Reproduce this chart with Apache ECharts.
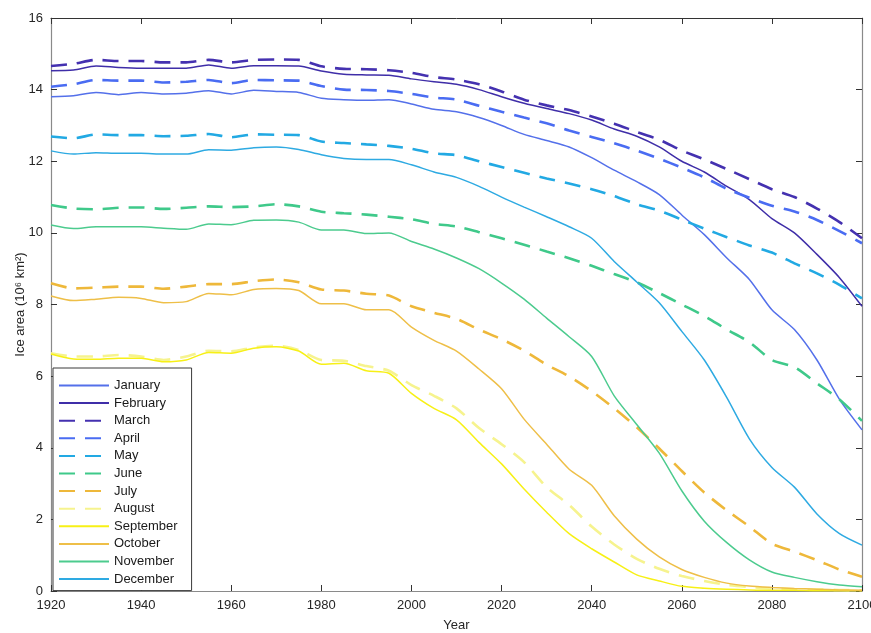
<!DOCTYPE html>
<html>
<head>
<meta charset="utf-8">
<script src="https://cdn.jsdelivr.net/npm/echarts@6/dist/echarts.min.js"></script>
<style>
html,body{margin:0;padding:0;background:#fff;}
#c{width:871px;height:633px;}
</style>
</head>
<body>
<div id="c"></div>
<script>
var years = [1920,1925,1930,1935,1940,1945,1950,1955,1960,1965,1970,1975,1980,1985,1990,1995,2000,2005,2010,2015,2020,2025,2030,2035,2040,2045,2050,2055,2060,2065,2070,2075,2080,2085,2090,2095,2100];

var january   = [13.80,13.83,13.92,13.86,13.92,13.88,13.90,13.97,13.88,13.98,13.95,13.92,13.76,13.72,13.70,13.72,13.60,13.45,13.38,13.22,13.00,12.75,12.58,12.40,12.10,11.75,11.43,11.07,10.50,9.95,9.30,8.70,7.85,7.30,6.45,5.35,4.50];
var february  = [14.53,14.55,14.66,14.62,14.60,14.60,14.60,14.69,14.60,14.67,14.67,14.66,14.52,14.43,14.41,14.40,14.30,14.22,14.15,14.00,13.80,13.62,13.47,13.33,13.15,12.90,12.70,12.40,12.00,11.70,11.30,10.93,10.40,10.00,9.40,8.75,7.95];
var march     = [14.66,14.72,14.83,14.80,14.80,14.76,14.76,14.83,14.76,14.83,14.84,14.83,14.65,14.58,14.57,14.54,14.47,14.35,14.28,14.15,13.95,13.72,13.56,13.43,13.25,13.05,12.82,12.60,12.30,12.05,11.78,11.50,11.22,11.00,10.68,10.30,9.85];
var april     = [14.08,14.15,14.27,14.25,14.25,14.20,14.22,14.27,14.18,14.27,14.26,14.25,14.10,14.00,13.99,13.96,13.88,13.78,13.72,13.55,13.38,13.22,13.06,12.86,12.68,12.50,12.30,12.07,11.82,11.55,11.23,10.98,10.76,10.60,10.36,10.05,9.71];
var may       = [12.69,12.64,12.75,12.73,12.73,12.70,12.71,12.76,12.67,12.75,12.74,12.73,12.55,12.51,12.47,12.43,12.35,12.22,12.17,12.00,11.84,11.68,11.52,11.38,11.22,11.03,10.80,10.62,10.37,10.12,9.88,9.65,9.45,9.15,8.87,8.55,8.17];
var june      = [10.78,10.68,10.66,10.70,10.71,10.67,10.70,10.74,10.72,10.74,10.80,10.74,10.59,10.55,10.51,10.45,10.38,10.25,10.18,10.02,9.85,9.67,9.48,9.29,9.08,8.85,8.62,8.32,8.00,7.68,7.30,6.95,6.45,6.25,5.80,5.35,4.75];
var july      = [8.59,8.45,8.47,8.50,8.50,8.44,8.50,8.57,8.57,8.65,8.70,8.62,8.42,8.39,8.30,8.25,7.95,7.77,7.60,7.30,7.03,6.71,6.32,5.99,5.58,5.10,4.57,3.98,3.35,2.75,2.25,1.80,1.32,1.10,0.86,0.60,0.40];
var august    = [6.64,6.55,6.55,6.59,6.55,6.45,6.55,6.71,6.69,6.80,6.85,6.73,6.45,6.43,6.28,6.15,5.75,5.45,5.10,4.55,4.10,3.60,2.90,2.40,1.80,1.30,0.90,0.62,0.42,0.28,0.17,0.11,0.07,0.05,0.04,0.03,0.02];
var september = [6.62,6.48,6.47,6.50,6.50,6.40,6.45,6.66,6.64,6.78,6.82,6.70,6.33,6.36,6.15,6.08,5.52,5.10,4.78,4.15,3.55,2.85,2.20,1.60,1.18,0.81,0.45,0.28,0.13,0.08,0.05,0.03,0.02,0.02,0.01,0.01,0.01];
var october   = [8.24,8.11,8.15,8.20,8.17,8.05,8.08,8.31,8.27,8.42,8.45,8.39,8.02,8.02,7.85,7.85,7.37,7.00,6.70,6.20,5.65,4.80,4.10,3.40,2.95,2.10,1.45,0.95,0.60,0.38,0.22,0.14,0.10,0.07,0.05,0.03,0.02];
var november  = [10.22,10.12,10.17,10.17,10.17,10.13,10.10,10.25,10.23,10.35,10.36,10.30,10.08,10.08,9.98,10.00,9.76,9.55,9.30,9.00,8.60,8.15,7.62,7.10,6.55,5.45,4.65,3.85,2.80,1.95,1.35,0.87,0.53,0.38,0.26,0.17,0.12];
var december  = [12.29,12.20,12.24,12.22,12.22,12.20,12.20,12.32,12.31,12.38,12.40,12.33,12.18,12.08,12.05,12.05,11.90,11.70,11.55,11.30,11.00,10.72,10.45,10.17,9.85,9.20,8.63,8.05,7.25,6.45,5.40,4.25,3.45,2.90,2.15,1.60,1.28];

var monthNames = ['January','February','March','April','May','June','July','August','September','October','November','December'];
var monthValues = [january,february,march,april,may,june,july,august,september,october,november,december];
var monthColors = ['#5470ea','#3f2ea8','#4431b0','#4a6cf2','#22a9e3','#3fc98a','#eeb83a','#f6f38e','#f7f016','#eebf48','#4ccb8e','#2eaae2'];
var monthDashed = [false,false,true,true,true,true,true,true,false,false,false,false];

var series = monthNames.map(function(name, i){
  return {
    name: name,
    type: 'line',
    symbol: 'none',
    smooth: 0.25,
    xAxisIndex: 0,
    yAxisIndex: 0,
    data: years.map(function(y, k){ return [y, monthValues[i][k]]; }),
    lineStyle: {
      color: monthColors[i],
      width: monthDashed[i] ? 2.6 : 1.5,
      type: monthDashed[i] ? [16, 10] : 'solid'
    },
    itemStyle: { color: monthColors[i] },
    emphasis: { disabled: true }
  };
});

var font = 'Liberation Sans, Arial, Helvetica, sans-serif';
function plain(v){ return String(v); }
var chart = echarts.init(document.getElementById('c'), null, {renderer: 'canvas'});
chart.setOption({
  animation: false,
  backgroundColor: '#fff',
  textStyle: { fontFamily: font },
  grid: { left: 51, right: 9, top: 18, bottom: 42, containLabel: false, outerBoundsMode: 'none' },
  legend: {
    orient: 'vertical',
    left: 53,
    top: 368,
    data: monthNames,
    itemWidth: 50,
    itemHeight: 12,
    itemGap: 4.6,
    padding: [11, 14, 5, 5],
    backgroundColor: '#fff',
    borderColor: '#3a3a3a',
    borderWidth: 1,
    borderRadius: 0,
    textStyle: { fontFamily: font, fontSize: 13, color: '#1a1a1a' },
    itemStyle: { color: 'rgba(0,0,0,0)', borderWidth: 0, opacity: 0 },
    selectedMode: false
  },
  xAxis: [{
    type: 'value',
    min: 1920, max: 2100, interval: 20,
    name: 'Year', nameLocation: 'middle', nameGap: 28, nameMoveOverlap: false,
    nameTextStyle: { fontFamily: font, fontSize: 13, color: '#262626' },
    axisLine: { show: true, onZero: false, lineStyle: { color: '#8a8a8a', width: 1.2 } },
    axisTick: { show: true, inside: true, length: 6, lineStyle: { color: '#333' } },
    axisLabel: { fontFamily: font, fontSize: 13, color: '#262626', margin: 8, formatter: plain },
    splitLine: { show: false }
  }, {
    type: 'value', position: 'top',
    min: 1920, max: 2100, interval: 20,
    axisLine: { show: true, onZero: false, lineStyle: { color: '#333', width: 1 } },
    axisTick: { show: true, inside: true, length: 6, lineStyle: { color: '#333' } },
    axisLabel: { show: false },
    splitLine: { show: false }
  }],
  yAxis: [{
    type: 'value',
    min: 0, max: 16, interval: 2,
    name: 'Ice area (10\u2076 km\u00b2)', nameLocation: 'middle', nameGap: 24, nameMoveOverlap: false,
    nameTextStyle: { fontFamily: font, fontSize: 13, color: '#262626' },
    axisLine: { show: true, onZero: false, lineStyle: { color: '#8a8a8a', width: 1.2 } },
    axisTick: { show: true, inside: true, length: 6, lineStyle: { color: '#333' } },
    axisLabel: { fontFamily: font, fontSize: 13, color: '#262626', margin: 8, formatter: plain },
    splitLine: { show: false }
  }, {
    type: 'value', position: 'right',
    min: 0, max: 16, interval: 2,
    axisLine: { show: true, onZero: false, lineStyle: { color: '#8a8a8a', width: 1.2 } },
    axisTick: { show: true, inside: true, length: 6, lineStyle: { color: '#333' } },
    axisLabel: { show: false },
    splitLine: { show: false }
  }],
  series: series
});
</script>
</body>
</html>
